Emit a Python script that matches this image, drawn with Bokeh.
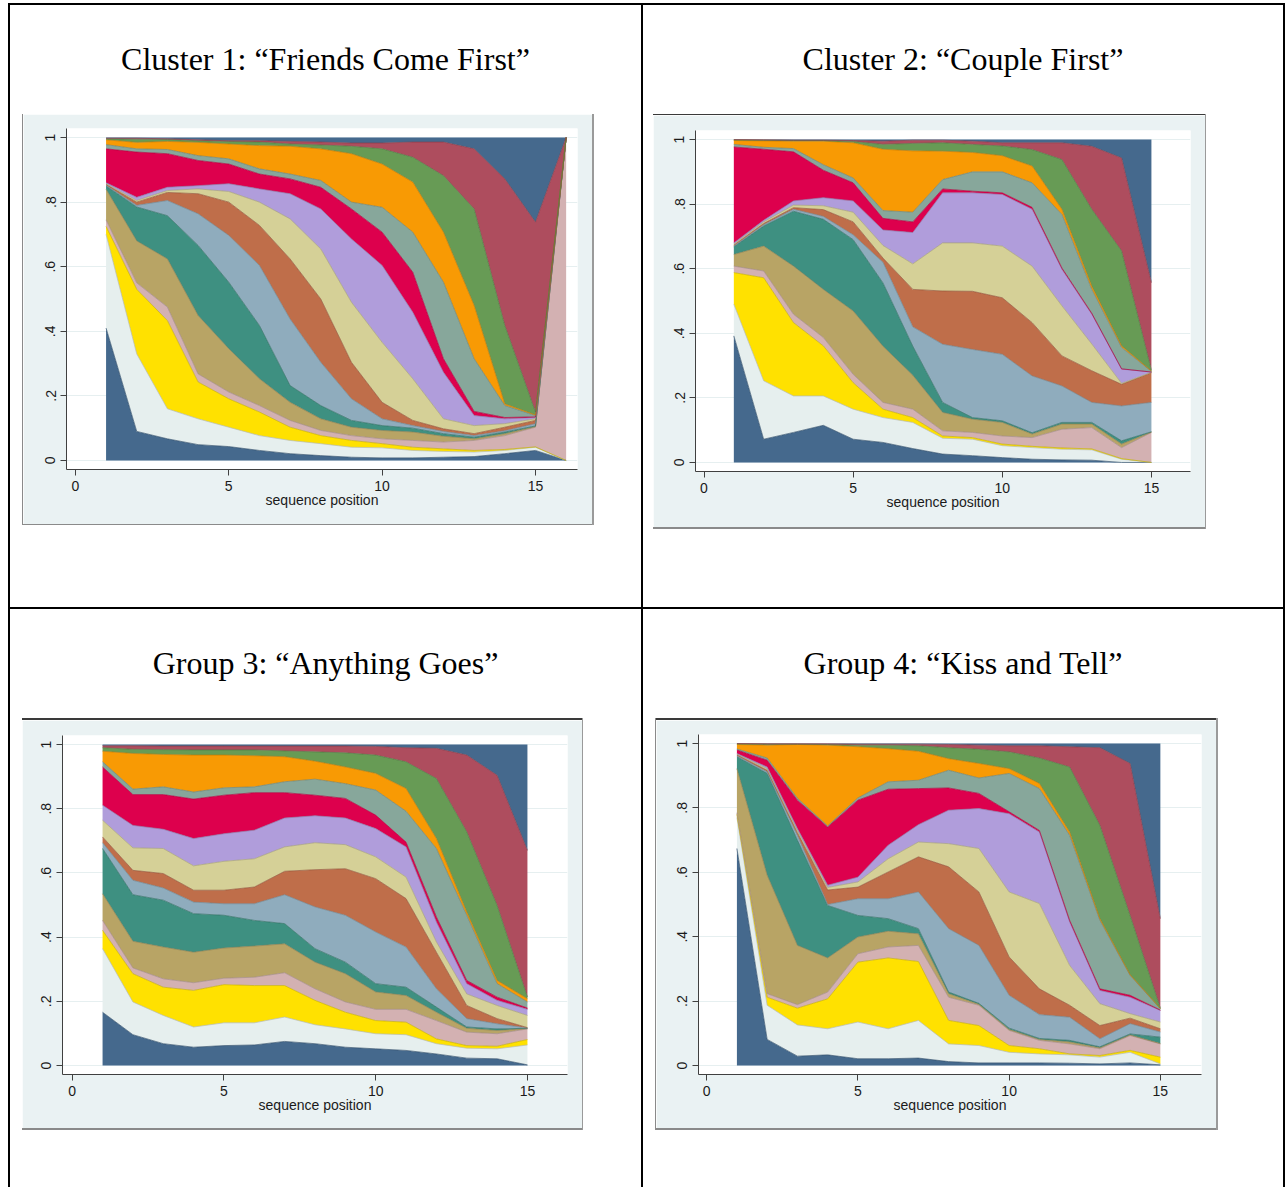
from bokeh.plotting import figure
from bokeh.models import Div, Spacer, FixedTicker, Range1d, CustomJSTickFormatter
from bokeh.layouts import row, column
from bokeh.embed import file_html
from bokeh.resources import INLINE

# ---------------- data ----------------
STATES = ["navy", "light", "yellow", "pink", "tan", "teal", "steel", "sienna",
          "khaki", "lavender", "crimson", "graygreen", "orange", "green", "maroon", "top"]

FILL = {"navy": "#45698D", "light": "#E6EFEE", "yellow": "#FFE100", "pink": "#D3B1B2",
        "tan": "#B8A465", "teal": "#3E9081", "steel": "#8FACBD", "sienna": "#BF6E4A",
        "khaki": "#D5D097", "lavender": "#B09DDB", "crimson": "#DD004D",
        "graygreen": "#87A79B", "orange": "#F89A04", "green": "#679B55",
        "maroon": "#AE4D5E", "top": "#45698D"}

TITLES = ["Cluster 1: \u201cFriends Come First\u201d", "Cluster 2: \u201cCouple First\u201d",
          "Group 3: \u201cAnything Goes\u201d", "Group 4: \u201cKiss and Tell\u201d"]

XTICKS = [0, 5, 10, 15]
YTICKS = [0, 0.2, 0.4, 0.6, 0.8, 1]
YLABELS = ["0", ".2", ".4", ".6", ".8", "1"]
XLABEL = "sequence position"

POS1 = list(range(1, 17))
POS2 = list(range(1, 16))
POS3 = list(range(1, 16))
POS4 = list(range(1, 16))

# cumulative upper boundary of each state (proportion of sequences), bottom to top
cluster1 = {
    "navy":      [.41, .09, .067, .049, .043, .031, .021, .015, .010, .008, .008, .010, .012, .021, .031, 0],
    "light":     [.70, .33, .16, .129, .103, .077, .062, .052, .041, .039, .031, .028, .026, .031, .041, 0],
    "yellow":    [.725, .53, .433, .243, .191, .15, .103, .077, .062, .052, .041, .036, .031, .034, .042, 0],
    "pink":      [.745, .55, .475, .268, .212, .17, .124, .093, .077, .067, .062, .057, .062, .077, .103, 1],
    "tan":       [.84, .68, .624, .449, .346, .253, .18, .129, .103, .093, .088, .075, .067, .083, .105, 1],
    "teal":      [.85, .785, .758, .666, .552, .418, .232, .17, .124, .108, .10, .083, .072, .088, .107, 1],
    "steel":     [.852, .79, .805, .764, .697, .604, .438, .304, .191, .129, .108, .09, .077, .092, .114, 1],
    "sienna":    [.855, .80, .83, .826, .80, .728, .624, .50, .304, .18, .124, .098, .083, .103, .124, 1],
    "khaki":     [.857, .805, .836, .841, .833, .80, .748, .655, .49, .366, .253, .129, .108, .114, .129, 1],
    "lavender":  [.86, .815, .846, .851, .857, .841, .826, .779, .686, .604, .459, .273, .139, .129, .133, 1],
    "crimson":   [.965, .955, .95, .929, .918, .887, .872, .846, .779, .707, .583, .315, .152, .133, .135, 1],
    "graygreen": [.978, .965, .963, .944, .934, .903, .887, .867, .80, .784, .707, .552, .315, .17, .139, 1],
    "orange":    [.993, .985, .988, .985, .98, .975, .973, .965, .95, .918, .862, .707, .48, .175, .141, 1],
    "green":     [.996, .995, .994, .99, .988, .986, .98, .977, .973, .965, .939, .882, .779, .418, .15, 1],
    "maroon":    [.998, .998, .996, .993, .99, .99, .988, .986, .983, .983, .986, .986, .965, .872, .738, 1],
}

cluster2 = {
    "navy":      [.392, .072, .093, .115, .072, .062, .043, .026, .021, .015, .010, .008, .007, 0, 0],
    "light":     [.49, .253, .206, .206, .165, .139, .124, .075, .072, .052, .046, .041, .039, .010, 0],
    "yellow":    [.588, .572, .433, .361, .247, .165, .139, .082, .077, .057, .050, .045, .042, .012, 0],
    "pink":      [.608, .593, .459, .387, .273, .186, .165, .098, .093, .082, .077, .103, .108, .046, .093],
    "tan":       [.644, .67, .608, .536, .469, .36, .27, .155, .134, .124, .088, .119, .119, .057, .094],
    "teal":      [.668, .732, .778, .753, .69, .556, .36, .186, .139, .129, .092, .124, .124, .067, .095],
    "steel":     [.670, .736, .784, .762, .705, .62, .42, .366, .35, .335, .268, .237, .186, .175, .186],
    "sienna":    [.673, .74, .789, .783, .745, .633, .536, .531, .53, .51, .433, .33, .284, .242, .278],
    "khaki":     [.676, .745, .797, .795, .775, .672, .615, .68, .68, .67, .608, .485, .367, .245, .279],
    "lavender":  [.68, .75, .81, .82, .81, .72, .712, .835, .835, .83, .784, .598, .459, .289, .280],
    "crimson":   [.977, .97, .962, .905, .866, .756, .745, .847, .84, .835, .79, .602, .462, .29, .280],
    "graygreen": [.985, .976, .972, .922, .881, .78, .775, .876, .90, .90, .866, .768, .536, .356, .282],
    "orange":    [.997, .996, .995, .995, .99, .97, .965, .964, .96, .95, .918, .784, .546, .361, .283],
    "green":     [.999, .998, .997, .997, .994, .985, .988, .99, .985, .98, .969, .938, .784, .655, .285],
    "maroon":    [1.0, .999, .998, .998, .997, .995, .998, .998, .995, .99, .99, .99, .979, .943, .557],
}

group3 = {
    "navy":      [.166, .096, .068, .057, .062, .064, .075, .068, .057, .052, .047, .036, .023, .021, .002],
    "light":     [.364, .198, .156, .12, .133, .133, .151, .127, .114, .099, .096, .068, .054, .052, .064],
    "yellow":    [.421, .286, .244, .234, .252, .249, .249, .203, .166, .14, .135, .083, .062, .06, .081],
    "pink":      [.452, .304, .27, .258, .272, .275, .289, .239, .198, .175, .175, .14, .104, .099, .114],
    "tan":       [.535, .387, .369, .353, .366, .372, .379, .322, .286, .229, .218, .166, .116, .109, .115],
    "teal":      [.676, .532, .515, .473, .468, .452, .442, .364, .322, .255, .244, .182, .12, .114, .116],
    "steel":     [.694, .577, .553, .509, .504, .504, .532, .494, .468, .416, .369, .239, .146, .13, .117],
    "sienna":    [.712, .608, .598, .546, .546, .556, .605, .61, .613, .582, .52, .353, .187, .146, .118],
    "khaki":     [.764, .678, .676, .622, .636, .644, .681, .694, .688, .65, .587, .385, .223, .187, .156],
    "lavender":  [.811, .748, .736, .707, .722, .733, .771, .778, .771, .738, .681, .447, .255, .203, .175],
    "crimson":   [.93, .844, .844, .83, .842, .85, .85, .842, .832, .78, .696, .463, .265, .213, .179],
    "graygreen": [.946, .861, .868, .852, .865, .868, .884, .892, .878, .858, .792, .676, .468, .255, .198],
    "orange":    [.979, .972, .969, .967, .967, .965, .962, .948, .93, .91, .863, .707, .478, .265, .208],
    "green":     [.99, .985, .984, .983, .983, .983, .98, .977, .974, .967, .946, .894, .728, .499, .213],
    "maroon":    [.996, .996, .995, .995, .995, .995, .995, .995, .995, .994, .99, .988, .967, .904, .67],
}

group4 = {
    "navy":      [.674, .081, .029, .033, .021, .021, .023, .012, .008, .008, .008, .007, .005, .008, .002],
    "light":     [.77, .187, .126, .114, .135, .114, .14, .067, .062, .041, .036, .033, .026, .041, .005],
    "yellow":    [.78, .212, .178, .207, .321, .334, .323, .14, .124, .062, .052, .036, .031, .047, .026],
    "pink":      [.785, .223, .189, .228, .347, .368, .373, .212, .187, .109, .078, .067, .052, .093, .067],
    "tan":       [.922, .591, .373, .334, .399, .417, .409, .223, .19, .112, .081, .073, .055, .095, .068],
    "teal":      [.959, .907, .70, .497, .466, .456, .425, .228, .193, .116, .084, .078, .058, .098, .088],
    "steel":     [.962, .912, .715, .50, .518, .518, .539, .425, .373, .218, .158, .15, .083, .13, .104],
    "sienna":    [.965, .917, .723, .545, .554, .601, .648, .617, .539, .337, .238, .187, .124, .147, .114],
    "khaki":     [.967, .922, .73, .553, .57, .642, .694, .689, .674, .539, .503, .311, .192, .161, .135],
    "lavender":  [.969, .927, .736, .56, .585, .684, .748, .793, .798, .782, .725, .446, .233, .212, .171],
    "crimson":   [.98, .948, .824, .741, .824, .858, .86, .862, .845, .788, .73, .451, .238, .218, .172],
    "graygreen": [.983, .955, .83, .744, .831, .881, .886, .917, .893, .907, .86, .715, .451, .28, .176],
    "orange":    [.997, .995, .997, .995, .99, .984, .976, .953, .938, .922, .876, .725, .456, .282, .177],
    "green":     [.999, .998, .998, .997, .995, .995, .993, .987, .982, .974, .955, .927, .746, .466, .178],
    "maroon":    [1.0, .999, .999, .999, .998, .998, .998, .997, .995, .993, .993, .99, .987, .938, .456],
}

# ---------------- styling helpers ----------------
GRAPH_BG = "#EAF2F3"
SANS = "Liberation Sans"
SERIF = "Liberation Serif"
TXT = "#1a1a1a"
AXC = "#404040"


def darker(hx, f=0.78):
    hx = hx.lstrip("#")
    r, g, b = (int(hx[i:i + 2], 16) for i in (0, 2, 4))
    return "#%02x%02x%02x" % (int(r * f), int(g * f), int(b * f))


def make_chart(cum, pos, cw, ch, ml, mr, mt, mb, xr):
    p = figure(width=cw, height=ch, x_range=Range1d(*xr), y_range=Range1d(-0.028, 1.028),
               output_backend="svg", toolbar_location=None,
               min_border_left=ml, min_border_right=mr, min_border_top=mt, min_border_bottom=mb)
    p.background_fill_color = "white"
    p.border_fill_color = GRAPH_BG
    p.outline_line_color = None
    n = len(pos)
    prev = [0.0] * n
    tops = []
    for s in STATES:
        top = cum[s] if s in cum else [1.0] * n
        p.varea(x=pos, y1=prev, y2=top, fill_color=FILL[s], fill_alpha=1.0)
        tops.append((s, top))
        prev = top
    for s, top in tops[:-1]:
        p.line(x=pos, y=top, line_color=darker(FILL[s]), line_width=0.7)

    p.xaxis.ticker = FixedTicker(ticks=XTICKS)
    p.yaxis.ticker = FixedTicker(ticks=YTICKS)
    p.yaxis.formatter = CustomJSTickFormatter(
        args=dict(yt=YTICKS, yl=YLABELS),
        code="const i = yt.findIndex(t => Math.abs(t - tick) < 1e-9); return i >= 0 ? yl[i] : String(tick);")
    p.yaxis.major_label_orientation = "vertical"
    p.xaxis.axis_label = XLABEL
    for ax in (p.xaxis[0], p.yaxis[0]):
        ax.axis_line_color = AXC
        ax.major_tick_line_color = AXC
        ax.major_tick_in = 0
        ax.major_tick_out = 6
        ax.minor_tick_line_color = None
        ax.major_label_text_font = SANS
        ax.major_label_text_font_size = "14px"
        ax.major_label_text_color = TXT
        ax.major_label_standoff = 5
    p.xaxis.axis_label_text_font = SANS
    p.xaxis.axis_label_text_font_size = "14px"
    p.xaxis.axis_label_text_font_style = "normal"
    p.xaxis.axis_label_text_color = TXT
    p.xaxis.axis_label_standoff = -2
    p.xgrid.visible = False
    p.ygrid.grid_line_color = "#E6EFF0"
    p.ygrid.grid_line_width = 1
    return p


def bar(w, h, color):
    return Div(text="", width=w, height=h, margin=0,
               styles={"background-color": color})


def block(fig, cw, ch, bt, bb, bl, br, ctop, cside):
    items = []
    if bt:
        items.append(bar(cw, bt, ctop))
    items.append(fig)
    if bb:
        items.append(bar(cw, bb, cside))
    inner = column(items, spacing=0)
    h = ch + bt + bb
    parts = []
    if bl:
        parts.append(bar(bl, h, cside))
    parts.append(inner)
    if br:
        parts.append(bar(br, h, "#9a9a9a"))
    return row(parts, spacing=0), cw + bl + br, h


def cell(title, cellw, cellh, blk, bw, bh, cx, cy):
    html = ('<div style="width:%dpx;text-align:center;font-family:\'%s\';font-size:32px;'
            'line-height:32px;padding-top:38px;color:#000;white-space:nowrap;">%s</div>'
            % (cellw, SERIF, title))
    tdiv = Div(text=html, width=cellw, height=cy, margin=0)
    r = row([Spacer(width=cx, height=bh, margin=0), blk,
             Spacer(width=cellw - cx - bw, height=bh, margin=0)], spacing=0)
    rest = Spacer(width=cellw, height=cellh - cy - bh, margin=0)
    return column([tdiv, r, rest], spacing=0)


# ---------------- charts ----------------
f1 = make_chart(cluster1, POS1, 569, 410, 43, 15, 14, 55, (-0.29, 16.37))
f2 = make_chart(cluster2, POS2, 552, 412, 42, 15, 15, 56, (-0.285, 16.31))
f3 = make_chart(group3, POS3, 560, 408, 40, 15, 15, 54, (-0.32, 16.32))
f4 = make_chart(group4, POS4, 560, 408, 42, 15, 14, 54, (-0.27, 16.36))

b1, w1, h1 = block(f1, 569, 410, 0, 1, 1, 2, "#555555", "#8a8a8a")
b2, w2, h2 = block(f2, 552, 412, 1, 2, 0, 1, "#3a3a3a", "#8a8a8a")
b3, w3, h3 = block(f3, 560, 408, 2, 2, 0, 1, "#3a3a3a", "#8a8a8a")
b4, w4, h4 = block(f4, 560, 408, 2, 2, 1, 2, "#3a3a3a", "#8a8a8a")

H1, H2 = 602, 578
W1, W2 = 631, 640
c1 = cell(TITLES[0], W1, H1, b1, w1, h1, 12, 109)
c2 = cell(TITLES[1], W2, H1, b2, w2, h2, 10, 109)
c3 = cell(TITLES[2], W1, H2, b3, w3, h3, 12, 109)
c4 = cell(TITLES[3], W2, H2, b4, w4, h4, 12, 109)

BLACK = "#000000"
TOTAL_W = 2 + W1 + 2 + W2 + 2
page = column([
    bar(TOTAL_W, 2, BLACK),
    row([bar(2, H1, BLACK), c1, bar(2, H1, BLACK), c2, bar(2, H1, BLACK)], spacing=0),
    bar(TOTAL_W, 2, BLACK),
    row([bar(2, H2, BLACK), c3, bar(2, H2, BLACK), c4, bar(2, H2, BLACK)], spacing=0),
], spacing=0, margin=(3, 0, 0, 8))

open("out.html", "w").write(file_html(page, INLINE))
